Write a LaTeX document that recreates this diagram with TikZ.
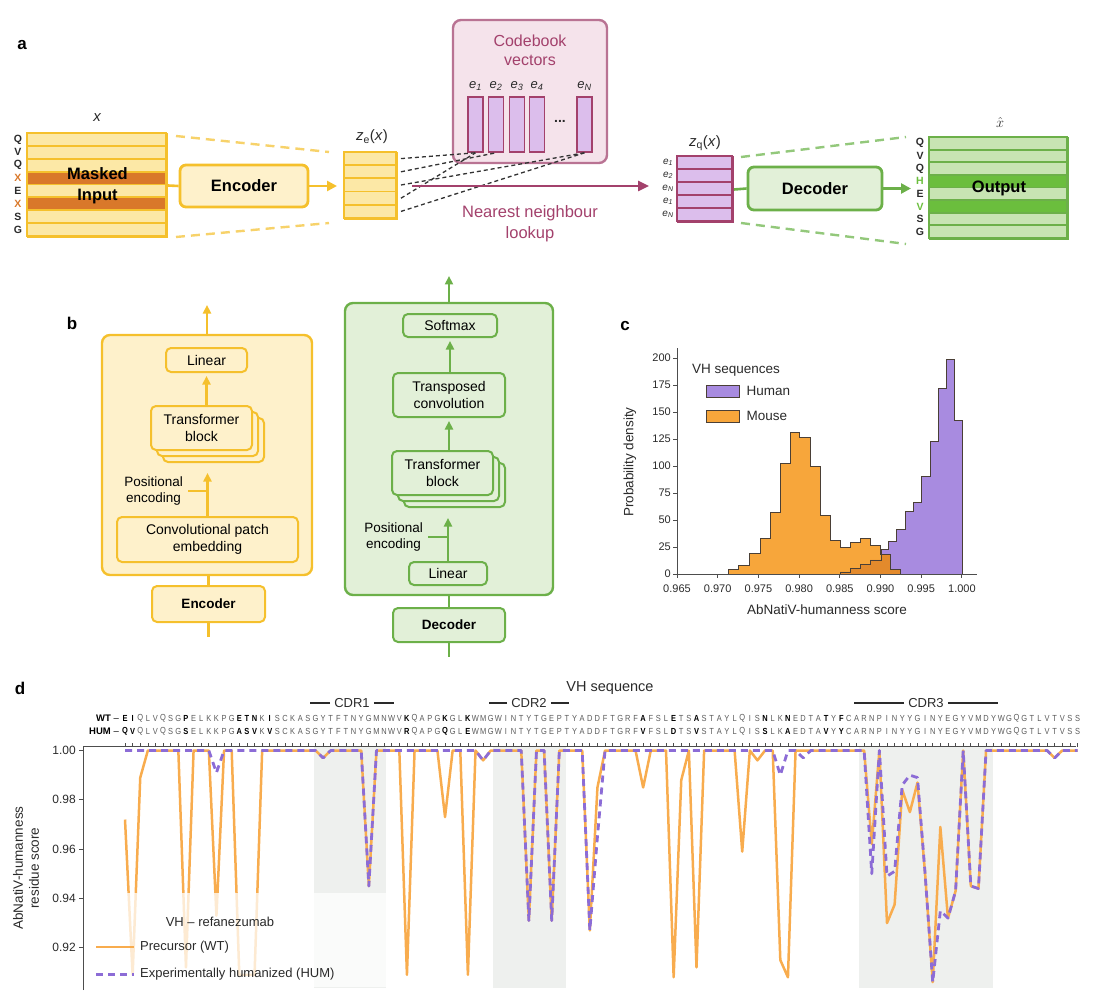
\documentclass[tikz,border=0pt]{standalone}
\usepackage{fontspec}
\setmainfont{Liberation Sans}
\usetikzlibrary{calc,arrows.meta,shadows}

\definecolor{ylw}{HTML}{F5C02C}
\definecolor{ylwfill}{HTML}{FEF1CB}
\definecolor{ylwrow}{HTML}{FCE8A6}
\definecolor{ylwdark}{HTML}{D9782A}
\definecolor{ylwdash}{HTML}{F7D26A}
\definecolor{grn}{HTML}{6CB049}
\definecolor{grnfill}{HTML}{E2F0D8}
\definecolor{grnrow}{HTML}{C8E4B3}
\definecolor{grndark}{HTML}{6BBE3D}
\definecolor{grndash}{HTML}{93C87B}
\definecolor{mag}{HTML}{A3416C}
\definecolor{magline}{HTML}{B97393}
\definecolor{magfill}{HTML}{F5E3EB}
\definecolor{lav}{HTML}{DCBEEC}
\definecolor{txtgray}{HTML}{2A2A2A}
\definecolor{seqgray}{HTML}{5A5A5A}
\definecolor{axisgray}{HTML}{4D4D4D}
\definecolor{wtorange}{HTML}{F8AC4E}
\definecolor{humpurple}{HTML}{8C6CD6}
\definecolor{histhum}{HTML}{A88BE0}
\definecolor{histmouse}{HTML}{F7A63B}
\definecolor{histover}{HTML}{E38A2C}
\definecolor{histline}{HTML}{4A3F36}
\definecolor{cdrshade}{HTML}{EEF0EE}

\newcommand\fsz[2]{\fontsize{#1}{#2}\selectfont}
\def\seqx#1{125+(#1-1)*7.62}
\def\resy#1{750.5+(1-#1)*2465}
\def\histy#1{574-#1*1.08}

% residue scores, residue 2 onwards (residue 1 is the start point)
\def\wtrest{0.909,0.989,1,1,1,1,1,0.912,1,%
1,1,0.933,1,1,0.909,0.909,0.909,1,1,%
1,1,1,1,1,1,0.997,1,1,1,%
1,1,0.945,1,1,1,1,0.909,1,1,%
1,1,0.973,1,1,0.909,1,0.996,1,1,%
1,1,1,0.931,1,1,0.931,1,1,1,%
1,0.927,0.985,1,1,1,1,1,0.985,1,%
1,1,0.908,0.988,1,0.912,1,1,1,1,%
1,0.959,1,0.996,1,1,0.915,0.908,1,1,%
1,1,1,1,1,1,1,1,0.962,1,%
0.930,0.9375,0.984,0.975,0.987,0.95,0.906,0.969,0.932,0.943,%
1,0.945,0.944,1,1,1,1,1,1,1,%
1,1,0.997,1,1,1}
\def\humrest{1,1,1,1,1,1,1,1,1,%
1,1,0.991,1,1,1,1,1,1,1,%
1,1,1,1,1,1,0.997,1,1,1,%
1,1,0.945,1,1,1,1,1,1,1,%
1,1,1,1,1,1,1,0.996,1,1,%
1,1,1,0.931,1,1,0.931,1,1,1,%
1,0.927,0.965,1,1,1,1,1,1,1,%
1,1,1,1,1,1,1,1,1,1,%
1,1,1,1,1,1,0.99,1,1,0.997,%
1,1,1,1,1,1,1,1,0.950,1,%
0.949,0.951,0.986,0.990,0.989,0.95,0.906,0.935,0.932,0.943,%
1,0.945,0.944,1,1,1,1,1,1,1,%
1,1,0.997,1,1,1}
\def\seqpairs{E/Q,I/V,Q/Q,L/L,V/V,Q/Q,S/S,G/G,P/S,E/E,%
L/L,K/K,K/K,P/P,G/G,E/A,T/S,N/V,K/K,I/V,%
S/S,C/C,K/K,A/A,S/S,G/G,Y/Y,T/T,F/F,T/T,%
N/N,Y/Y,G/G,M/M,N/N,W/W,V/V,K/R,Q/Q,A/A,%
P/P,G/G,K/Q,G/G,L/L,K/E,W/W,M/M,G/G,W/W,%
I/I,N/N,T/T,Y/Y,T/T,G/G,E/E,P/P,T/T,Y/Y,%
A/A,D/D,D/D,F/F,T/T,G/G,R/R,F/F,A/V,F/F,%
S/S,L/L,E/D,T/T,S/S,A/V,S/S,T/T,A/A,Y/Y,%
L/L,Q/Q,I/I,S/S,N/S,L/L,K/K,N/A,E/E,D/D,%
T/T,A/A,T/V,Y/Y,F/Y,C/C,A/A,R/R,N/N,P/P,%
I/I,N/N,Y/Y,Y/Y,G/G,I/I,N/N,Y/Y,E/E,G/G,%
Y/Y,V/V,M/M,D/D,Y/Y,W/W,G/G,Q/Q,G/G,T/T,%
L/L,V/V,T/T,V/V,S/S,S/S}

\begin{document}
\begin{tikzpicture}[x=1pt, y=-1pt,
  every node/.style={inner sep=0pt, text=txtgray},
  panlbl/.style={font=\bfseries\fsz{17}{17}, text=black},
  blkA/.style={rounded corners=6pt, line width=2.8pt, font=\bfseries\fsz{16.5}{18}, text=black},
  blkB/.style={rounded corners=5pt, line width=2pt, align=center, font=\fsz{14}{16.5}, text=black},
  blkBbold/.style={blkB, font=\bfseries\fsz{13.5}{16}},
  bigB/.style={rounded corners=8pt, line width=2.4pt},
  upar/.style={-{Triangle[length=8.5pt,width=8pt]}, line width=2.2pt},
  rarr/.style={-{Triangle[length=10pt,width=10pt]}, line width=2.6pt},
  lookuparr/.style={-{Triangle[length=11pt,width=10pt]}, line width=2.4pt, draw=mag},
  cbline/.style={dash pattern=on 4pt off 3pt, line width=1.3pt, draw=black!80},
  gapdash/.style={dash pattern=on 9pt off 6pt, line width=2.4pt},
  tickfont/.style={font=\fsz{11}{11}},
  seqres/.style={font=\fsz{8.8}{8.8}, text=seqgray},
  wtline/.style={draw=wtorange, line width=2.5pt, line join=round},
  humline/.style={draw=humpurple, line width=2.8pt, line join=round, dash pattern=on 7pt off 5pt},
  cdrbar/.style={line width=1.4pt, draw=txtgray}]
\useasboundingbox (0,0) rectangle (1108,1000);

%%%%% PANEL A %%%%%
\node[panlbl] (lbla) at (22,45) {a};

% masked input
\node[draw=ylw, line width=2pt, minimum width=139pt, minimum height=103pt] (inp) at (97.5,185.5) {};
\foreach \c [count=\k from 0] in {ylwrow,ylwrow,ylwrow,ylwdark,ylwrow,ylwdark,ylwrow,ylwrow}
  \draw[draw=ylw, line width=1.8pt, fill=\c] ($(inp.north west)+(0,{\k*12.875})$) rectangle ++(139,12.875);
\node[font=\bfseries\fsz{16.5}{21}, align=center, text=black] (inptxt) at (inp.center) {Masked\\Input};
\foreach \l/\c [count=\k from 0] in {Q/txtgray,V/txtgray,Q/txtgray,X/ylwdark,E/txtgray,X/ylwdark,S/txtgray,G/txtgray}
  \node[font=\bfseries\fsz{10.5}{10.5}, text=\c] (inl\k) at ($(inp.north west)+(-9,{(\k+0.5)*12.875})$) {\l};
\node[font=\itshape\fsz{15}{15}] (xlab) at (97,118) {x};

\node[blkA, draw=ylw, fill=ylwfill, minimum width=128pt, minimum height=42pt] (enc) at (244,186) {Encoder};

% z_e(x)
\node[draw=ylw, line width=2pt, minimum width=52pt, minimum height=66pt] (ze) at (371,186) {};
\foreach \k in {0,...,4}
  \draw[draw=ylw, line width=1.8pt, fill=ylwrow] ($(ze.north west)+(0,{\k*13.2})$) rectangle ++(52,13.2);
\node[font=\fsz{15}{15}] (zelab) at (372,137) {\textit{z}\textsubscript{e}(\textit{x})};

\draw[draw=ylw, line width=2.6pt] (inp.east) -- (enc.west);
\draw[rarr, draw=ylw, shorten >=7pt] (enc.east) -- (ze.west);
\draw[gapdash, draw=ylwdash] ($(inp.north east)+(8,3)$) -- ($(ze.north west)+(-15,0)$);
\draw[gapdash, draw=ylwdash] ($(inp.south east)+(8,-1)$) -- ($(ze.south west)+(-15,3)$);

% codebook
\node[draw=magline, fill=magfill, line width=2.4pt, rounded corners=8pt, minimum width=154pt, minimum height=143pt] (cb) at (530,91.5) {};
\node[text=mag, font=\fsz{16}{19}, align=center] (cbtxt) at (530,50) {Codebook\\vectors};
\foreach \n/\xc in {1/475.5,2/496,3/517,4/537,N/584.5} {
  \node[draw=mag, fill=lav, line width=1.6pt, minimum width=15pt, minimum height=55pt] (e\n) at (\xc,124.5) {};
  \node[font=\itshape\fsz{13}{13}, anchor=south, text=txtgray] (el\n) at ($(e\n.north)+(0,-5)$) {e\textsubscript{\n}};
}
\node[font=\bfseries\fsz{14}{14}] (cbdots) at (560,121) {...};
\foreach \vtgt [count=\k from 0] in {e1,e2,eN,e1,eN}
  \draw[cbline] ($(ze.north east)+(3,{(\k+0.5)*13.2})$) -- (\vtgt.south);

% z_q(x)
\node[draw=mag, line width=2pt, minimum width=55pt, minimum height=65pt] (zq) at (705.5,189.5) {};
\foreach \k in {0,...,4}
  \draw[draw=mag, line width=1.8pt, fill=lav] ($(zq.north west)+(0,{\k*13})$) rectangle ++(55,13);
\foreach \n [count=\k from 0] in {1,2,N,1,N}
  \node[font=\itshape\fsz{10}{10}] (zql\k) at ($(zq.north west)+(-9,{(\k+0.5)*13})$) {e\textsubscript{\n}};
\node[font=\fsz{15}{15}] (zqlab) at (705,143) {\textit{z}\textsubscript{q}(\textit{x})};

\coordinate (nnstart) at ($(ze.east)+(14,0)$);
\draw[lookuparr, shorten >=28pt] (nnstart) -- (nnstart -| zq.west);
\node[text=mag, font=\fsz{16.5}{21}, align=center] (nntxt) at (530,224) {Nearest neighbour\\lookup};

% decoder and output
\node[blkA, draw=grn, fill=grnfill, minimum width=134pt, minimum height=43pt] (dec) at (815,188.5) {Decoder};
\node[draw=grn, line width=2pt, minimum width=138pt, minimum height=101pt] (out) at (999,188.5) {};
\foreach \c [count=\k from 0] in {grnrow,grnrow,grnrow,grndark,grnrow,grndark,grnrow,grnrow}
  \draw[draw=grn, line width=1.8pt, fill=\c] ($(out.north west)+(0,{\k*12.625})$) rectangle ++(138,12.625);
\node[font=\bfseries\fsz{16.5}{18}, text=black] (outtxt) at (out.center) {Output};
\foreach \l/\c [count=\k from 0] in {Q/txtgray,V/txtgray,Q/txtgray,H/grndark,E/txtgray,V/grndark,S/txtgray,G/txtgray}
  \node[font=\bfseries\fsz{10.5}{10.5}, text=\c] (outl\k) at ($(out.north west)+(-9,{(\k+0.5)*12.625})$) {\l};
\node[font=\fsz{15}{15}] (xhat) at (1000,123) {$\hat{x}$};

\draw[draw=grn, line width=2.6pt] (zq.east) -- (dec.west);
\draw[rarr, draw=grn, shorten >=18pt] (dec.east) -- (out.west);
\draw[gapdash, draw=grndash] ($(zq.north east)+(7,1)$) -- ($(out.north west)+(-23,0)$);
\draw[gapdash, draw=grndash] ($(zq.south east)+(7,0)$) -- ($(out.south west)+(-23,4)$);

%%%%% PANEL B %%%%%
\node[panlbl] (lblb) at (72,323) {b};

% encoder detail
\node[bigB, draw=ylw, fill=ylwfill, minimum width=210pt, minimum height=240pt] (encbig) at (207,455) {};
\node[blkB, draw=ylw, fill=ylwfill, minimum width=81pt, minimum height=24pt] (elin) at (206.5,360) {Linear};
\node[blkB, draw=ylw, fill=ylwfill, minimum width=101pt, minimum height=44pt,
  double copy shadow={shadow xshift=6pt, shadow yshift=-6pt}] (etf) at (201.5,428) {Transformer\\block};
\node[blkB, draw=ylw, fill=ylwfill, minimum width=181pt, minimum height=45pt] (econv) at (207.5,539.5) {Convolutional patch\\embedding};
\node[font=\fsz{13.5}{16.5}, align=center, anchor=east, text=black] (epos) at (183,491) {Positional\\encoding};
\node[blkBbold, draw=ylw, fill=ylwfill, minimum width=113pt, minimum height=36pt] (encs) at (208.5,604) {Encoder};
\coordinate (etop) at (207,305);
\coordinate (ebot) at (208.5,637);

\draw[upar, draw=ylw, shorten >=22pt] (econv.north) -- (econv.north |- etf.south);
\draw[draw=ylw, line width=2.2pt] ($(epos.east)+(5,0)$) -- (epos.east -| econv.north);
\draw[upar, draw=ylw, shorten >=3pt] (elin.south |- etf.north) -- (elin.south);
\draw[upar, draw=ylw] (encbig.north) -- (etop);
\draw[draw=ylw, line width=2.2pt] (encs.north |- encbig.south) -- (encs.north);
\draw[draw=ylw, line width=2.2pt] (encs.south) -- (ebot);

% decoder detail
\node[bigB, draw=grn, fill=grnfill, minimum width=208pt, minimum height=292pt] (decbig) at (449,449) {};
\node[blkB, draw=grn, fill=grnfill, minimum width=94pt, minimum height=23pt] (dsoft) at (450,325.5) {Softmax};
\node[blkB, draw=grn, fill=grnfill, minimum width=112pt, minimum height=44pt] (dtconv) at (449,395) {Transposed\\convolution};
\node[blkB, draw=grn, fill=grnfill, minimum width=101pt, minimum height=44pt,
  double copy shadow={shadow xshift=6pt, shadow yshift=-6pt}] (dtf) at (442.5,473) {Transformer\\block};
\node[font=\fsz{13.5}{16.5}, align=center, anchor=east, text=black] (dpos) at (423,537) {Positional\\encoding};
\node[blkB, draw=grn, fill=grnfill, minimum width=78pt, minimum height=23pt] (dlin) at (448,573.5) {Linear};
\node[blkBbold, draw=grn, fill=grnfill, minimum width=112pt, minimum height=34pt] (decs) at (449,625) {Decoder};
\coordinate (dtop) at (449,276);
\coordinate (dbot) at (449,657);

\draw[upar, draw=grn, shorten >=22pt] (dlin.north) -- (dlin.north |- dtf.south);
\draw[draw=grn, line width=2.2pt] ($(dpos.east)+(5,0)$) -- (dpos.east -| dlin.north);
\draw[upar, draw=grn, shorten >=3pt] (dtconv.south |- dtf.north) -- (dtconv.south);
\draw[upar, draw=grn, shorten >=3pt] (dsoft.south |- dtconv.north) -- (dsoft.south);
\draw[upar, draw=grn] (decbig.north) -- (dtop);
\draw[draw=grn, line width=2.2pt] (decbig.south) -- (decs.north);
\draw[draw=grn, line width=2.2pt] (decs.south) -- (dbot);

%%%%% PANEL C %%%%%
\node[panlbl] (lblc) at (625,326) {c};

\draw[fill=histhum, draw=histline, line width=1pt] (840,574)
  \foreach \xa/\xb/\h in {840/850/2,850/860/5,860/870/9,870/881/13,881/888.3/23,888.3/896.7/30,896.7/905/41,
    905/913.3/58,913.3/921.7/66,921.7/930/90,930/938.3/123,938.3/946.7/172,946.7/954/199,954/962.3/142}
  { -- (\xa,{\histy{\h}}) -- (\xb,{\histy{\h}}) } -- (962.3,574) -- cycle;
\draw[fill=histmouse, draw=histline, line width=1pt] (728.3,574)
  \foreach \xa/\xb/\h in {728.3/738.3/4,738.3/749/8,749/760/19,760/770/33,770/780/57,780/790/102,790/799.3/131,
    799.3/810/126,810/820/100,820/830/54,830/840/31,840/850/25,850/860/29,860/870/33,870/880/26,880/890/18,890/900/4}
  { -- (\xa,{\histy{\h}}) -- (\xb,{\histy{\h}}) } -- (900,574) -- cycle;
\draw[fill=histover, draw=histline, line width=0.6pt] (840,574)
  \foreach \xa/\xb/\h in {840/850/2,850/860/5,860/870/9,870/881/13,881/890/18,890/900/4}
  { -- (\xa,{\histy{\h}}) -- (\xb,{\histy{\h}}) } -- (900,574) -- cycle;

\draw[axisgray, line width=1pt] (677,348) -- (677,574) -- (977,574);
\foreach \v in {0,25,...,200} {
  \draw[axisgray, line width=1pt] (673,{\histy{\v}}) -- (677,{\histy{\v}});
  \node[tickfont, anchor=east] (cy\v) at (671,{\histy{\v}}) {\v};
}
\foreach \lab [count=\k from 0] in {0.965,0.970,0.975,0.980,0.985,0.990,0.995,1.000} {
  \draw[axisgray, line width=1pt] ({677+\k*40.7},574) -- ++(0,4);
  \node[tickfont] (cx\k) at ({677+\k*40.7},589) {\lab};
}
\node[font=\fsz{13.5}{13.5}, rotate=90] (cylab) at (630,462) {Probability density};
\node[font=\fsz{13.5}{13.5}] (cxlab) at (827,610) {AbNatiV-humanness score};

\node[font=\fsz{13.5}{13.5}, anchor=west] (legtitle) at (692,370) {VH sequences};
\node[draw=histline, fill=histhum, line width=1pt, minimum width=33pt, minimum height=12pt] (swhum) at (722.5,391) {};
\node[font=\fsz{13.5}{13.5}, anchor=west] (leghum) at ($(swhum.east)+(7,0)$) {Human};
\node[draw=histline, fill=histmouse, line width=1pt, minimum width=33pt, minimum height=12pt] (swmouse) at (722.5,416) {};
\node[font=\fsz{13.5}{13.5}, anchor=west] (legmouse) at ($(swmouse.east)+(7,0)$) {Mouse};

%%%%% PANEL D %%%%%
\node[panlbl] (lbld) at (20,688) {d};
\node[font=\fsz{14.5}{14.5}] (vhseq) at (610,688) {VH sequence};

\node[font=\fsz{13}{13}] (cdr1) at (352,703) {CDR1};
\draw[cdrbar] ($(cdr1.west)+(-4,0)$) -- ++(-20,0);
\draw[cdrbar] ($(cdr1.east)+(4,0)$) -- ++(20,0);
\node[font=\fsz{13}{13}] (cdr2) at (529,703) {CDR2};
\draw[cdrbar] ($(cdr2.west)+(-4,0)$) -- ++(-18,0);
\draw[cdrbar] ($(cdr2.east)+(4,0)$) -- ++(18,0);
\node[font=\fsz{13}{13}] (cdr3) at (926,703) {CDR3};
\draw[cdrbar] ($(cdr3.west)+(-4,0)$) -- ++(-50,0);
\draw[cdrbar] ($(cdr3.east)+(4,0)$) -- ++(50,0);

\node[font=\fsz{9.5}{9.5}, anchor=east, text=black] (wtlab) at (119,718) {\textbf{WT} –};
\node[font=\fsz{9.5}{9.5}, anchor=east, text=black] (humlab) at (119,731) {\textbf{HUM} –};
\foreach \wa/\hb [count=\i] in \seqpairs {
  \edef\seqw{\wa}\edef\seqh{\hb}
  \ifx\seqw\seqh
    \node[seqres] (wt\i) at ({\seqx{\i}},718) {\scalebox{0.85}[1]{\wa}};
    \node[seqres] (hum\i) at ({\seqx{\i}},731) {\scalebox{0.85}[1]{\hb}};
  \else
    \node[seqres, font=\bfseries\fsz{8.8}{8.8}, text=black] (wt\i) at ({\seqx{\i}},718) {\scalebox{0.85}[1]{\wa}};
    \node[seqres, font=\bfseries\fsz{8.8}{8.8}, text=black] (hum\i) at ({\seqx{\i}},731) {\scalebox{0.85}[1]{\hb}};
  \fi
}

% CDR shading
\fill[cdrshade] (314,747) rectangle (386,988);
\fill[cdrshade] (493,747) rectangle (566,988);
\fill[cdrshade] (859,747) rectangle (993,988);

% residue scores
\draw[wtline] ({\seqx{1}},{\resy{0.972}})
  \foreach \v [count=\i from 2] in \wtrest { -- ({\seqx{\i}},{\resy{\v}}) };
\draw[humline] ({\seqx{1}},{\resy{1}})
  \foreach \v [count=\i from 2] in \humrest { -- ({\seqx{\i}},{\resy{\v}}) };

% axes
\draw[axisgray, line width=1pt] (83,990) -- (83,746.5) -- (1076,746.5);
\foreach \i in {1,...,126}
  \draw[axisgray, line width=0.7pt] ({\seqx{\i}},746.5) -- ++(0,-3.5);
\foreach \v in {1.00,0.98,0.96,0.94,0.92} {
  \draw[axisgray, line width=1pt] (79,{\resy{\v}}) -- (83,{\resy{\v}});
  \node[font=\fsz{12}{12}, anchor=east] (dy\v) at (76,{\resy{\v}}) {\v};
}
\node[font=\fsz{13.5}{16}, rotate=90, align=center] (dylab) at (26,868) {AbNatiV-humanness\\residue score};

% legend
\fill[white, opacity=0.75] (86,893) rectangle (390,987);
\node[font=\fsz{13}{13}] (legvh) at (220,922) {VH – refanezumab};
\coordinate (legwt) at (96,947);
\coordinate (leghm) at (96,974);
\draw[wtline, line width=2.8pt] (legwt) -- ++(38,0);
\draw[humline, line width=3pt] (leghm) -- ++(38,0);
\node[font=\fsz{13}{13}, anchor=west] (legwttxt) at ($(legwt)+(44,0)$) {Precursor (WT)};
\node[font=\fsz{13}{13}, anchor=west] (leghmtxt) at ($(leghm)+(44,0)$) {Experimentally humanized (HUM)};
\end{tikzpicture}
\end{document}
